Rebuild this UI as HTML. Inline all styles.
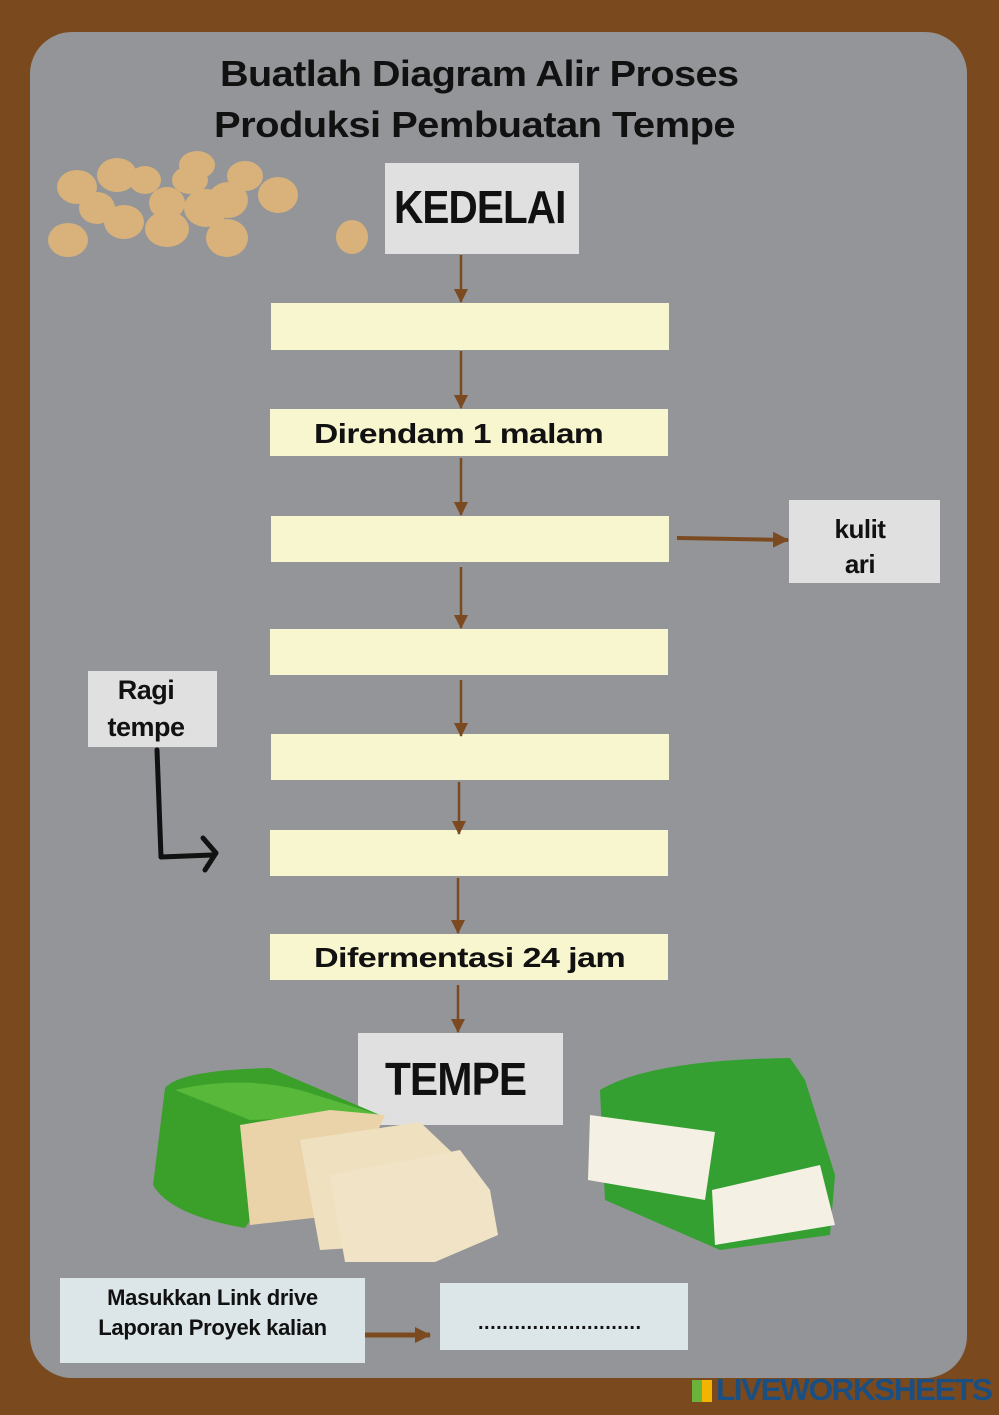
<!DOCTYPE html>
<html><head><meta charset="utf-8"><style>
body{margin:0;width:999px;height:1415px;background:#7a4a1e;position:relative;overflow:hidden;font-family:"Liberation Sans",sans-serif}
.a{position:absolute}
.box{position:absolute;background:#f8f6cf}
.t{font-weight:bold;color:#111;position:absolute;white-space:nowrap;letter-spacing:-0.5px;transform-origin:0 0}
</style></head><body>
<div class="a" style="left:30px;top:32px;width:937px;height:1346px;background:#939598;border-radius:42px"></div>
<div class="t" style="left:220px;top:54px;font-size:36px;line-height:40px;transform:scaleX(1.1)">Buatlah Diagram Alir Proses</div>
<div class="t" style="left:214px;top:105px;font-size:36px;line-height:40px;transform:scaleX(1.11)">Produksi Pembuatan Tempe</div>

<div class="a" style="left:385px;top:163px;width:194px;height:91px;background:#e0e0e1"></div>
<div class="t" style="left:394px;top:183px;font-size:46px;line-height:48px;letter-spacing:-1px;transform:scaleX(0.88)">KEDELAI</div>

<div class="box" style="left:271px;top:303px;width:398px;height:47px"></div>
<div class="box" style="left:270px;top:409px;width:398px;height:47px"></div>
<div class="t" style="left:314px;top:418px;font-size:28px;line-height:32px;transform:scaleX(1.2)">Direndam 1 malam</div>
<div class="box" style="left:271px;top:516px;width:398px;height:46px"></div>
<div class="box" style="left:270px;top:629px;width:398px;height:46px"></div>
<div class="box" style="left:271px;top:734px;width:398px;height:46px"></div>
<div class="box" style="left:270px;top:830px;width:398px;height:46px"></div>
<div class="box" style="left:270px;top:934px;width:398px;height:46px"></div>
<div class="t" style="left:314px;top:942px;font-size:28px;line-height:32px;transform:scaleX(1.22)">Difermentasi 24 jam</div>

<div class="a" style="left:789px;top:500px;width:151px;height:83px;background:#e0e0e1"></div>
<div class="t" style="left:829px;top:512px;font-size:26px;line-height:35px;text-align:center;width:62px">kulit<br>ari</div>
<div class="a" style="left:88px;top:671px;width:129px;height:76px;background:#e0e0e1"></div>
<div class="t" style="left:98px;top:672px;font-size:27px;line-height:37px;text-align:center;width:96px">Ragi<br>tempe</div>

<div class="a" style="left:358px;top:1033px;width:205px;height:92px;background:#e0e0e1"></div>
<div class="t" style="left:385px;top:1055px;font-size:46px;line-height:48px;letter-spacing:-1px;transform:scaleX(0.92)">TEMPE</div>

<svg class="a" style="left:0;top:0" width="999" height="1415">
<defs><marker id="m" markerWidth="14" markerHeight="14" refX="13" refY="7" orient="auto" markerUnits="userSpaceOnUse"><path d="M0,0 L14,7 L0,14 Z" fill="#7b4a21"/></marker>
<marker id="m2" markerWidth="16" markerHeight="16" refX="15" refY="8" orient="auto" markerUnits="userSpaceOnUse"><path d="M0,0 L16,8 L0,16 Z" fill="#7b4a21"/></marker></defs>
<g stroke="#7b4a21" stroke-width="2.5" fill="none" marker-end="url(#m)">
<line x1="461" y1="255" x2="461" y2="302"/>
<line x1="461" y1="351" x2="461" y2="408"/>
<line x1="461" y1="458" x2="461" y2="515"/>
<line x1="461" y1="567" x2="461" y2="628"/>
<line x1="461" y1="680" x2="461" y2="736"/>
<line x1="459" y1="782" x2="459" y2="834"/>
<line x1="458" y1="878" x2="458" y2="933"/>
<line x1="458" y1="985" x2="458" y2="1032"/>
</g>
<line x1="677" y1="538" x2="788" y2="540" stroke="#7b4a21" stroke-width="4" marker-end="url(#m2)"/>
<line x1="353" y1="1335" x2="430" y2="1335" stroke="#7b4a21" stroke-width="5" marker-end="url(#m2)"/>
<path d="M157,750 L161,857 L212,855 M203,838 L216,853 L205,870" stroke="#111" stroke-width="5" fill="none" stroke-linecap="round" stroke-linejoin="round"/>
<g fill="#d8b27a">
<ellipse cx="77" cy="187" rx="20" ry="17"/><ellipse cx="117" cy="175" rx="20" ry="17"/><ellipse cx="145" cy="180" rx="16" ry="14"/><ellipse cx="197" cy="165" rx="18" ry="14"/><ellipse cx="190" cy="180" rx="18" ry="14"/>
<ellipse cx="245" cy="176" rx="18" ry="15"/><ellipse cx="278" cy="195" rx="20" ry="18"/><ellipse cx="228" cy="200" rx="20" ry="18"/><ellipse cx="167" cy="203" rx="18" ry="16"/>
<ellipse cx="97" cy="208" rx="18" ry="16"/><ellipse cx="124" cy="222" rx="20" ry="17"/><ellipse cx="206" cy="208" rx="22" ry="19"/><ellipse cx="167" cy="229" rx="22" ry="18"/>
<ellipse cx="227" cy="238" rx="21" ry="19"/><ellipse cx="68" cy="240" rx="20" ry="17"/><ellipse cx="352" cy="237" rx="16" ry="17"/>
</g>
<path d="M165,1088 Q180,1070 270,1068 L380,1115 L315,1120 L245,1228 Q170,1215 153,1185 Z" fill="#3aa02a"/>
<path d="M175,1090 Q240,1075 300,1090 L380,1115 L250,1120 Z" fill="#57b83a"/>
<path d="M240,1125 L330,1110 L385,1115 L340,1215 L250,1225 Z" fill="#ead3a8"/>
<path d="M300,1140 L420,1122 L460,1160 L400,1245 L320,1250 Z" fill="#efe0c0"/>
<path d="M330,1175 L460,1150 L490,1190 L498,1235 L435,1262 L345,1262 Z" fill="#f1e3c6"/>
<path d="M600,1090 Q650,1060 790,1058 L805,1080 L835,1175 L830,1235 L720,1250 L605,1200 Z" fill="#33a031"/>
<path d="M590,1115 L715,1132 L705,1200 L588,1180 Z" fill="#f4f0e3"/>
<path d="M712,1190 L820,1165 L835,1225 L715,1245 Z" fill="#f4f0e3"/>
</svg>

<div class="a" style="left:60px;top:1278px;width:305px;height:85px;background:#dce6e8"></div>
<div class="t" style="left:60px;top:1283px;width:305px;text-align:center;font-size:22px;line-height:30px;letter-spacing:-0.3px">Masukkan Link drive<br>Laporan Proyek kalian</div>
<div class="a" style="left:440px;top:1283px;width:248px;height:67px;background:#dce6e8"></div>
<div class="t" style="left:478px;top:1312px;font-size:20px;letter-spacing:0.5px">...........................</div>

<div class="a" style="left:692px;top:1380px;width:20px;height:22px;background:linear-gradient(90deg,#6bb33a 50%,#f3b400 50%)"></div>
<div class="t" style="left:716px;top:1375px;font-size:31px;color:#1b4f82;letter-spacing:-1.5px;line-height:30px;transform:scaleX(1.02)">LIVEWORKSHEETS</div>
</body></html>
